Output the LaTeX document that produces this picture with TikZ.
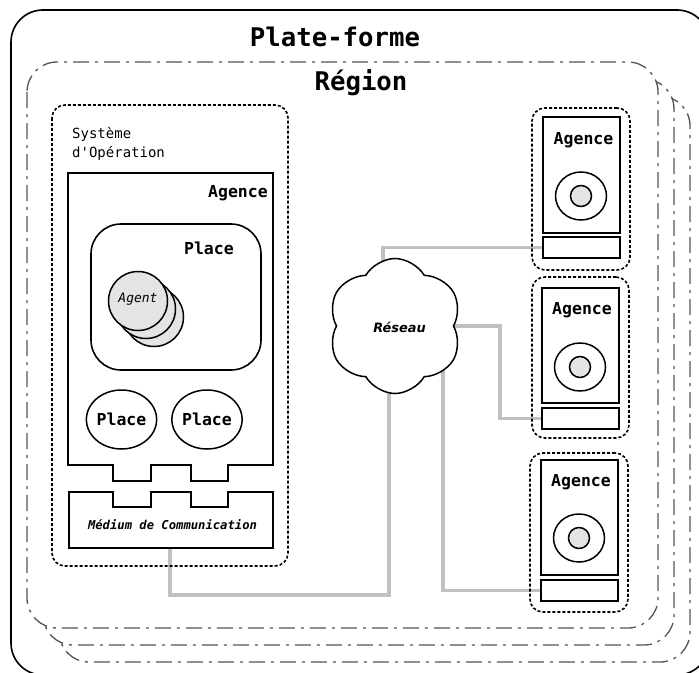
\documentclass[tikz,border=0pt]{standalone}
\usepackage{fontspec}
\setmonofont{DejaVu Sans Mono}
\newfontfamily\dvsans{DejaVu Sans}
\usetikzlibrary{shapes.symbols,shapes.geometric}
\definecolor{rgray}{HTML}{555555}
\definecolor{cgray}{HTML}{C0C0C0}
\definecolor{agfill}{HTML}{E4E4E4}
\pgfdeclarelayer{back}
\pgfdeclarelayer{conn}
\pgfsetlayers{back,conn,main}
\newcommand\fBig{\ttfamily\bfseries\fontsize{25.7bp}{30bp}\selectfont}
\newcommand\fMid{\ttfamily\bfseries\fontsize{16.5bp}{20bp}\selectfont}
\newcommand\fSys{\ttfamily\fontsize{14bp}{17bp}\selectfont}
\newcommand\fAgent{\ttfamily\itshape\fontsize{13bp}{16bp}\selectfont}
\newcommand\fMed{\ttfamily\bfseries\itshape\fontsize{12.2bp}{15bp}\selectfont}
\newcommand\fRes{\dvsans\bfseries\itshape\fontsize{12.9bp}{15bp}\selectfont}
\begin{document}
\begin{tikzpicture}[x=1bp,y=-1bp,
  blk/.style={draw=black,line width=1.6bp},
  dotbox/.style={draw=black,line width=1.6bp,dash pattern=on 3bp off 2bp,rounded corners=13bp,rectangle,inner sep=0},
  regionbox/.style={draw=rgray,line width=1.3bp,dash pattern=on 16bp off 6bp on 3bp off 6bp,rounded corners=30bp,fill=white},
  cline/.style={draw=cgray,line width=3.2bp},
  agentc/.style={circle,draw=black,line width=1.5bp,fill=agfill,minimum size=59bp,inner sep=0},
  lbl/.style={inner sep=0,anchor=base},
  agbox/.style={rectangle,draw=black,line width=1.6bp,fill=white,minimum width=77bp,minimum height=116bp,inner sep=0},
  portbox/.style={rectangle,draw=black,line width=1.6bp,fill=white,minimum width=77bp,minimum height=21bp,inner sep=0},
  outerell/.style={ellipse,draw=black,line width=1.5bp,minimum width=51bp,minimum height=48bp,inner sep=0},
  innerc/.style={circle,draw=black,line width=1.5bp,fill=agfill,minimum size=21bp,inner sep=0},
  placeell/.style={ellipse,draw=black,line width=1.5bp,fill=white,minimum width=69bp,minimum height=59bp,inner sep=0}
]
\useasboundingbox (0,0) rectangle (699,673);
\begin{pgfonlayer}{back}
  \fill[white] (0,0) rectangle (699,673);
  \draw[blk,rounded corners=32bp] (11,10) rectangle (709,675);
  \draw[regionbox,shift={(32,34)}] (27,62) rectangle (658,628);
  \draw[regionbox,shift={(16,17)}] (27,62) rectangle (658,628);
  \draw[regionbox] (27,62) rectangle (658,628);
\end{pgfonlayer}

\node[lbl,font=\fBig] (plate) at (335,47) {Plate-forme};
\node[lbl,font=\fBig] (region) at (361,91) {Région};

% Systeme d'operation
\draw[dotbox] (52,105) rectangle (288,566);
\node[lbl,anchor=base west,font=\fSys] (sys1) at (72,139) {Système};
\node[lbl,anchor=base west,font=\fSys] (sys2) at (72,157) {d'Opération};

% Agence (left)
\draw[blk,fill=white] (68,173) -- (273,173) -- (273,465) -- (228,465) -- (228,481) -- (191,481) -- (191,465)
  -- (151,465) -- (151,481) -- (113,481) -- (113,465) -- (68,465) -- cycle;
\node[lbl,anchor=base east,font=\fMid] (agL) at (268,197) {Agence};

% Place (big)
\draw[blk,rounded corners=30bp] (91,224) rectangle (261,370);
\node[lbl,anchor=base east,font=\fMid] (placeBig) at (234,254) {Place};

% Agents
\node[agentc] (ag3) at (154,317) {};
\node[agentc] (ag2) at (146,309) {};
\node[agentc] (ag1c) at (138,301) {};
\node[lbl,font=\fAgent] (agtxt) at (138,302) {Agent};

% small places
\node[placeell,font=\fMid] (plA) at (121.5,419.5) {Place};
\node[placeell,font=\fMid] (plB) at (207,419.5) {Place};

% Medium
\draw[blk,fill=white] (69,492) -- (113,492) -- (113,507) -- (151,507) -- (151,492) -- (191,492) -- (191,507)
  -- (228,507) -- (228,492) -- (273,492) -- (273,548) -- (69,548) -- cycle;
\node[lbl,font=\fMed] (med) at (172.5,529) {Médium de Communication};
\coordinate (medbot) at (170,548);

% Cloud
\node[cloud,cloud puffs=6,cloud puff arc=120,aspect=1,draw=black,line width=1.5bp,fill=white,
  minimum width=135bp,minimum height=135bp,inner sep=0] (cloud) at (395,326) {};
\node[lbl,font=\fRes] (reseau) at (399.5,332) {Réseau};

% right agencies
\node[dotbox,minimum width=98bp,minimum height=162bp] (d1) at (581,189) {};
\node[dotbox,minimum width=97bp,minimum height=161bp] (d2) at (580.5,357.5) {};
\node[dotbox,minimum width=98bp,minimum height=159bp] (d3) at (579,532.5) {};

\node[agbox] (a1) at (581.5,175) {};
\node[agbox,minimum height=115bp] (a2) at (580.5,345.5) {};
\node[agbox,minimum height=115bp] (a3) at (579.5,517.5) {};
\node[portbox] (p1) at (581.5,247.5) {};
\node[portbox] (p2) at (580.5,418.5) {};
\node[portbox] (p3) at (579.5,590.5) {};

\node[lbl,font=\fMid] (t1) at (583.5,144) {Agence};
\node[lbl,font=\fMid] (t2) at (582,314) {Agence};
\node[lbl,font=\fMid] (t3) at (581,486) {Agence};

\node[outerell] (e1) at (581,196) {};
\node[outerell] (e2) at (580,367) {};
\node[outerell] (e3) at (579,538) {};
\node[innerc] (c1) at (e1) {};
\node[innerc] (c2) at (e2) {};
\node[innerc] (c3) at (e3) {};

% connectors
\begin{pgfonlayer}{conn}
  \draw[cline] (medbot) -- ++(0,47) -| ([xshift=-6bp]cloud.center);
  \draw[cline] (p1.west) -| ([xshift=-12bp]cloud.center);
  \draw[cline] (cloud.center) -- ++(105,0) |- (p2.west);
  \draw[cline] ([xshift=48bp]cloud.center) |- (p3.west);
\end{pgfonlayer}
\end{tikzpicture}
\end{document}
